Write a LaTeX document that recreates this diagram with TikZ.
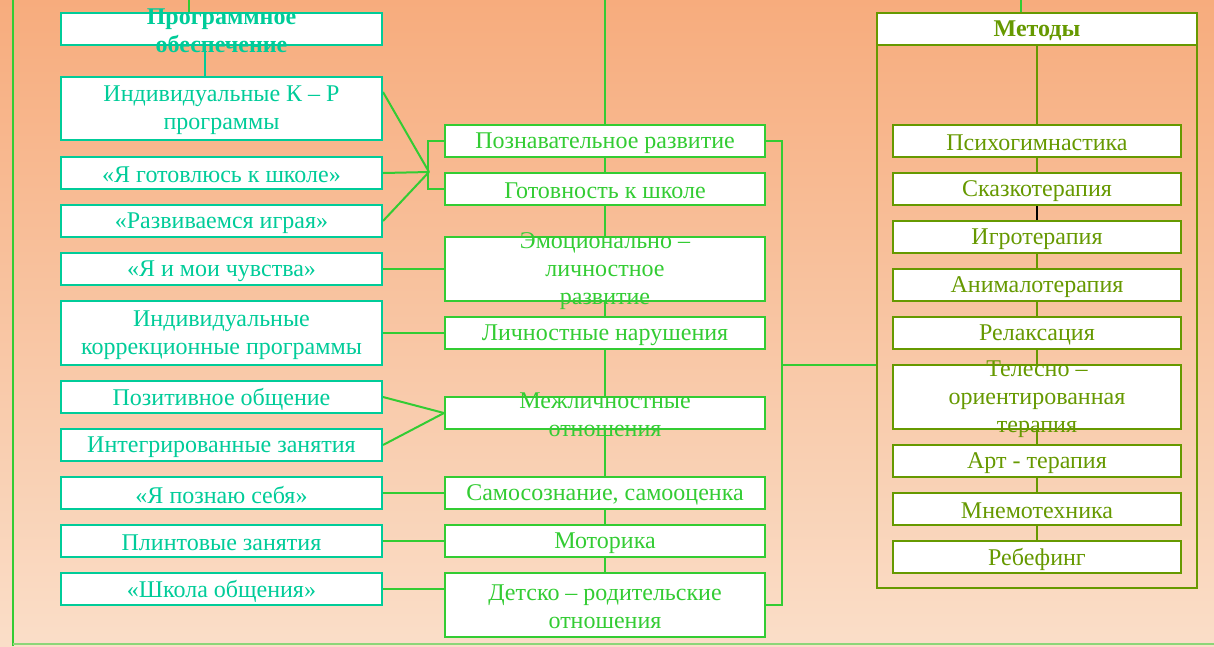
\documentclass[tikz,border=0pt]{standalone}
\usepackage{fontspec}
\setmainfont{Liberation Serif}
\usetikzlibrary{calc}
\pgfdeclarelayer{bg}
\pgfdeclarelayer{lines}
\pgfsetlayers{bg,lines,main}
\definecolor{tealc}{RGB}{0,204,153}
\definecolor{greenc}{RGB}{51,204,51}
\definecolor{olivec}{RGB}{102,153,0}
\definecolor{bgtop}{RGB}{247,172,125}
\definecolor{bgmid}{RGB}{248,184,134}
\definecolor{bgbot}{RGB}{250,222,200}
\definecolor{baseline}{RGB}{140,214,120}
\begin{document}
\begin{tikzpicture}[x=1pt,y=-1pt,
  box/.style={draw, fill=white, line width=2pt, minimum height=32pt, minimum width=320pt, inner sep=0pt},
  lbox/.style={box, draw=tealc, minimum width=321pt},
  mbox/.style={box, draw=greenc},
  rbox/.style={box, draw=olivec, minimum width=288pt},
  txt/.style={align=center, inner sep=0pt, yshift=-2pt, font=\fontsize{24}{28}\selectfont},
  ltxt/.style={txt, text=tealc},
  mtxt/.style={txt, text=greenc},
  rtxt/.style={txt, text=olivec},
  btxt/.style={txt, font=\fontsize{24}{28}\selectfont\bfseries},
  gline/.style={draw=greenc, line width=2pt},
  tline/.style={draw=tealc, line width=2pt},
  oline/.style={draw=olivec, line width=2pt}]
\useasboundingbox (0,0) rectangle (1214,646);
\begin{pgfonlayer}{bg}
\shade[top color=bgtop, middle color=bgmid, bottom color=bgbot] (0,0) rectangle (1214,646);
\end{pgfonlayer}

% left column
\node[lbox] (prog) at (221.5,29) {};
\node[btxt, text=tealc] (progt) at (prog) {Программное\\обеспечение};
\node[lbox, minimum height=63pt] (L1) at (221.5,108.5) {};
\node[ltxt] (L1t) at (L1) {Индивидуальные К – Р\\программы};
\node[lbox] (L2) at (221.5,173) {};
\node[ltxt] (L2t) at (L2) {«Я готовлюсь к школе»};
\node[lbox] (L3) at (221.5,221) {};
\node[ltxt] (L3t) at (L3) {«Развиваемся играя»};
\node[lbox] (L4) at (221.5,269) {};
\node[ltxt] (L4t) at (L4) {«Я и мои чувства»};
\node[lbox, minimum height=64pt] (L5) at (221.5,333) {};
\node[ltxt] (L5t) at (L5) {Индивидуальные\\коррекционные программы};
\node[lbox] (L6) at (221.5,397) {};
\node[ltxt] (L6t) at (L6) {Позитивное общение};
\node[lbox] (L7) at (221.5,445) {};
\node[ltxt] (L7t) at (L7) {Интегрированные занятия};
\node[lbox] (L8) at (221.5,493) {};
\node[ltxt] (L8t) at (L8) {«Я познаю себя»};
\node[lbox] (L9) at (221.5,541) {};
\node[ltxt] (L9t) at (L9) {Плинтовые занятия};
\node[lbox] (L10) at (221.5,589) {};
\node[ltxt] (L10t) at (L10) {«Школа общения»};

% middle column
\node[mbox] (M1) at (605,141) {};
\node[mtxt] (M1t) at (M1) {Познавательное развитие};
\node[mbox] (M2) at (605,189) {};
\node[mtxt] (M2t) at (M2) {Готовность к школе};
\node[mbox, minimum height=64pt] (M3) at (605,269) {};
\node[mtxt] (M3t) at (M3) {Эмоционально –\\личностное\\развитие};
\node[mbox] (M4) at (605,333) {};
\node[mtxt] (M4t) at (M4) {Личностные нарушения};
\node[mbox] (M5) at (605,413) {};
\node[mtxt] (M5t) at (M5) {Межличностные\\отношения};
\node[mbox] (M6) at (605,493) {};
\node[mtxt] (M6t) at (M6) {Самосознание, самооценка};
\node[mbox] (M7) at (605,541) {};
\node[mtxt] (M7t) at (M7) {Моторика};
\node[mbox, minimum height=64pt] (M8) at (605,605) {};
\node[mtxt] (M8t) at (M8) {Детско – родительские\\отношения};

% right column
\node[draw=olivec, line width=2pt, minimum width=320pt, minimum height=543pt, inner sep=0pt] (frame) at (1037,316.5) {};
\node[box, draw=olivec] (met) at (1037,29) {};
\node[btxt, text=olivec] (mett) at (met) {Методы};
\node[rbox] (R1) at (1037,141) {};
\node[rtxt] (R1t) at (R1) {Психогимнастика};
\node[rbox] (R2) at (1037,189) {};
\node[rtxt] (R2t) at (R2) {Сказкотерапия};
\node[rbox] (R3) at (1037,237) {};
\node[rtxt] (R3t) at (R3) {Игротерапия};
\node[rbox] (R4) at (1037,285) {};
\node[rtxt] (R4t) at (R4) {Анималотерапия};
\node[rbox] (R5) at (1037,333) {};
\node[rtxt] (R5t) at (R5) {Релаксация};
\node[rbox, minimum height=64pt] (R6) at (1037,397) {};
\node[rtxt] (R6t) at (R6) {Телесно –\\ориентированная\\терапия};
\node[rbox] (R7) at (1037,461) {};
\node[rtxt] (R7t) at (R7) {Арт - терапия};
\node[rbox] (R8) at (1037,509) {};
\node[rtxt] (R8t) at (R8) {Мнемотехника};
\node[rbox] (R9) at (1037,557) {};
\node[rtxt] (R9t) at (R9) {Ребефинг};

% free ends
\coordinate (lefttop) at (13,0);
\coordinate (leftbot) at (13,646);
\coordinate (baseL) at (13,644);
\coordinate (baseR) at (1214,644);
\coordinate (progtop) at (189,0);
\coordinate (ctop) at (605,0);
\coordinate (mtop) at (1021,0);
\coordinate (j1) at (429,172);
\coordinate (jB) at (781,365);

\begin{pgfonlayer}{lines}
\draw[gline] (lefttop) -- (leftbot);
\draw[draw=baseline, line width=1.5pt] (baseL) -- (baseR);
\draw[gline] (progtop) -- (progtop |- prog.north);
\draw[tline] ([xshift=-16.5pt]prog.south) -- ([xshift=-16.5pt]L1.north);
\draw[gline] (ctop) -- (M8.north);
\draw[gline] (mtop) -- (mtop |- met.north);
\draw[oline] (met.south) -- (R9.north);
\draw[black, line width=2pt] (R2.south) -- (R3.north);
% left to middle
\draw[gline] ([yshift=16.5pt]L1.east) -- (j1);
\draw[gline] (L2.east) -- (j1);
\draw[gline] (L3.east) -- (j1);
\draw[gline] (M1.west) -- ++(-16,0) |- (M2.west);
\draw[gline] (L4.east) -- (M3.west);
\draw[gline] (L5.east) -- (M4.west);
\draw[gline] (L6.east) -- (M5.west);
\draw[gline] (L7.east) -- (M5.west);
\draw[gline] (L8.east) -- (M6.west);
\draw[gline] (L9.east) -- (M7.west);
\draw[gline] (L10.east) -- (M8.west |- L10.east);
% middle to right
\draw[gline] (M1.east) -- ++(16,0) |- (M8.east);
\draw[gline] (jB) -- (jB -| frame.west);
\end{pgfonlayer}
\end{tikzpicture}
\end{document}
